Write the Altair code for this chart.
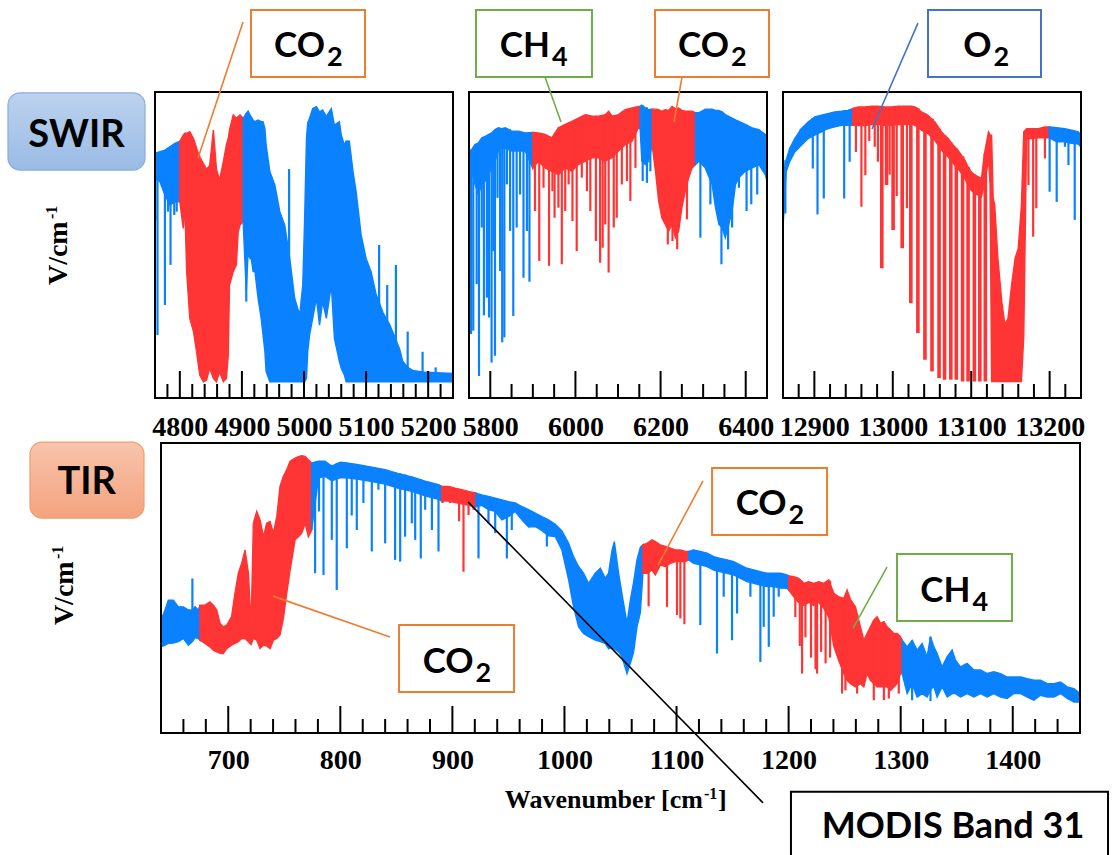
import bisect

import altair as alt
import pandas as pd

# ---------------------------------------------------------------- colours / fonts
BLUE = "#0A82FF"
RED = "#FF3434"
ORANGE = "#ED7D31"
GREEN = "#70AD47"
NAVY = "#4472C4"
INK = "#000000"
SANS = "Lato"
SERIF = "Liberation Serif"

# ---------------------------------------------------------------- SWIR 1 (CO2 band)
P1_WN = [4760, 4768, 4776, 4784, 4792, 4800,
         4805.5, 4808, 4811, 4816, 4822, 4827, 4832, 4838, 4843, 4848, 4854,
         4859, 4864, 4870, 4875, 4878, 4880, 4886, 4891, 4894, 4897, 4902,
         4907, 4910, 4913, 4915, 4918, 4921, 4926, 4931, 4934, 4937, 4939,
         4945, 4953, 4961, 4969, 4977, 4985, 4993, 4998, 5001, 5004,
         5006, 5009, 5014, 5020, 5025, 5030, 5036, 5044, 5049, 5057,
         5060, 5065, 5068, 5073, 5079, 5084, 5092, 5100, 5108, 5116,
         5127, 5138, 5148, 5154, 5159, 5167, 5175, 5191, 5212, 5240]
P1_TOP = [79.9, 80.5, 81.0, 82.1, 83.2, 83.9,
          85.9, 86.5, 86.5, 87.0, 84.8, 81.6, 78.8, 76.6, 74.8, 75.9, 87.6,
          74.8, 71.2, 77.2, 82.7, 85.0, 87.6, 92.5, 91.4, 92.0, 92.5, 91.4,
          93.0, 93.8, 92.5, 91.9, 90.8, 90.3, 90.8, 90.3, 90.3, 88.1, 82.7,
          73.9, 69.6, 60.9, 56.5, 45.6, 32.6, 27.1, 36.9, 58.5, 84.8,
          90.0, 91.4, 94.6, 95.2, 93.5, 94.1, 92.0, 94.6, 89.2, 90.3,
          86.0, 82.7, 84.0, 83.9, 73.9, 67.4, 53.3, 45.6, 41.3, 34.0,
          28.0, 24.0, 19.0, 16.0, 12.0, 10.0, 9.0, 8.5, 8.3, 8.0]
P1_BOT = [71.8, 70.7, 66.3, 63.1, 64.1, 64.1,
          55.4, 63.1, 41.3, 26.0, 21.7, 15.1, 7.5, 5.3, 5.9, 9.7, 6.4,
          5.3, 8.6, 5.3, 6.4, 14.0, 36.9, 41.3, 43.5, 54.3, 56.5, 57.6,
          34.7, 47.8, 45.6, 45.6, 41.3, 41.3, 32.6, 26.0, 20.6, 15.1, 8.6,
          5.3, 5.3, 5.3, 5.3, 5.3, 5.3, 5.3, 5.3, 5.3, 6.4,
          15.1, 20.6, 26.0, 32.6, 23.8, 31.5, 26.0, 36.9, 19.5, 11.9,
          9.7, 7.5, 5.3, 5.3, 5.3, 5.3, 5.3, 5.3, 5.3, 5.3,
          5.3, 5.3, 5.3, 5.3, 5.3, 5.3, 5.3, 5.3, 5.3, 5.3]
P1_BANDS = [(4800, 4902)]
P1_LINE_WN = [4760.5, 4764, 4771, 4776, 4781, 4785, 4791, 4795,
              4907, 4976, 5121, 5134, 5148, 5167, 5191, 5212]
P1_LINE_HI = [80.0, 80.2, 80.6, 81.0, 81.8, 82.2, 83.0, 83.4,
              93.0, 74.8, 50.0, 36.9, 43.5, 21.7, 15.1, 10.0]
P1_LINE_LO = [58.0, 20.6, 70.0, 30.4, 60.9, 43.5, 59.8, 60.9,
              31.5, 5.3, 5.3, 5.3, 5.3, 5.3, 5.3, 5.3]
P1_MAJOR = [4800, 4900, 5000, 5100, 5200]
P1_MINOR = [4780, 4820, 4840, 4860, 4880, 4920, 4940, 4960, 4980,
            5020, 5040, 5060, 5080, 5120, 5140, 5160, 5180, 5220]

# ---------------------------------------------------------------- SWIR 2 (CH4 / CO2)
P2_WN = [5750, 5756, 5764, 5772, 5780, 5788, 5795.5, 5803, 5811, 5819, 5827, 5835,
         5850, 5866, 5882, 5900,
         5913, 5929, 5944.5, 5952, 5960, 5976, 5991.5, 6007, 6023, 6038.6, 6054,
         6070, 6078, 6086, 6101, 6117, 6133, 6148, 6152,
         6156, 6164, 6172, 6180,
         6188, 6195.5, 6203, 6211, 6219, 6227, 6235, 6242.5, 6250, 6258, 6266, 6274, 6282,
         6290, 6305, 6321, 6329, 6337, 6344.5, 6352, 6360, 6368, 6376, 6384, 6391.5,
         6399, 6415, 6431, 6446, 6450]
P2_TOP = [80.7, 81.2, 82.8, 83.4, 85.0, 85.5, 86.1, 86.6, 87.7, 88.3, 88.0, 88.3,
          87.2, 87.2, 86.6, 86.8,
          86.6, 86.1, 85.0, 86.6, 88.3, 89.4, 90.4, 91.5, 92.6, 92.1, 92.1,
          92.6, 93.7, 92.1, 92.6, 94.2, 94.8, 95.3, 95.3,
          95.7, 94.8, 94.2, 94.4,
          94.4, 94.2, 93.7, 94.2, 94.0, 95.3, 94.5, 94.8, 94.0, 93.7, 93.7, 93.7, 93.2,
          93.2, 94.4, 94.4, 94.0, 94.0, 93.5, 92.6, 92.0, 91.5, 90.9, 90.4, 89.9,
          89.4, 88.3, 87.7, 86.1, 85.0]
P2_BOT = [69.8, 74.1, 69.8, 66.5, 69.8, 70.9, 73.0, 75.2, 77.4, 80.7, 81.7, 81.7,
          80.7, 80.7, 80.7, 75.0,
          77.4, 75.2, 74.1, 73.5, 73.0, 75.2, 74.1, 76.3, 77.4, 78.5, 78.5,
          77.4, 78.0, 78.5, 80.7, 82.8, 83.9, 88.3, 88.0,
          77.4, 76.3, 77.4, 82.8,
          74.1, 64.4, 58.9, 56.7, 54.6, 56.7, 52.4, 54.6, 62.2, 67.6, 72.0, 75.2, 76.3,
          77.4, 75.2, 69.8, 62.2, 56.7, 55.7, 52.4, 56.7, 61.1, 69.8, 72.0, 73.0,
          74.1, 75.2, 76.3, 73.0, 70.9]
P2_BANDS = [(5900, 6152), (6180, 6282)]
P2_LINE_WN = [5754.7, 5760, 5768, 5773.5, 5780, 5785, 5792, 5797, 5803, 5807, 5811, 5817,
              5823, 5828, 5833, 5839, 5846.5, 5854, 5862, 5870, 5878, 5886, 5892,
              5905, 5915, 5925, 5938, 5946, 5951, 5960, 5968, 5976, 5984, 5993, 6003,
              6015, 6027, 6035, 6048, 6058, 6064, 6070, 6078, 6090, 6097, 6109, 6121,
              6129, 6141,
              6158, 6168, 6176,
              6217, 6228, 6239, 6262,
              6293.5, 6317, 6343, 6358.6, 6368, 6384, 6402, 6413, 6427]
P2_LINE_HI = [81.0, 81.5, 82.8, 83.2, 84.5, 85.2, 85.6, 86.0, 86.4, 87.0, 87.5, 88.0,
              88.2, 88.0, 88.0, 88.2, 87.8, 87.2, 87.2, 87.2, 86.8, 86.6, 86.8,
              86.6, 86.6, 86.2, 85.5, 85.0, 86.0, 88.3, 88.8, 89.4, 90.0, 90.5, 91.2,
              92.0, 92.6, 92.2, 92.1, 92.1, 92.3, 92.6, 93.5, 92.3, 92.4, 93.5, 94.0,
              94.5, 95.0,
              95.6, 95.0, 94.3,
              94.1, 94.6, 94.6, 93.8,
              93.5, 94.4, 93.6, 92.2, 91.5, 90.4, 89.3, 88.5, 87.8]
P2_LINE_LO = [20.9, 22.0, 37.2, 7.2, 55.7, 27.0, 32.8, 26.3, 11.6, 48.0, 13.8, 65.4,
              41.5, 18.2, 19.8, 69.8, 54.6, 26.8, 55.7, 66.5, 39.3, 54.6, 38.0,
              61.1, 44.8, 68.7, 43.2, 67.6, 58.9, 62.2, 43.7, 61.1, 69.8, 57.8, 48.0,
              72.0, 67.6, 61.1, 51.3, 44.2, 49.1, 56.7, 41.0, 55.7, 58.9, 69.8, 70.9,
              64.4, 75.2,
              70.9, 70.3, 74.1,
              50.2, 51.3, 48.6, 58.4,
              52.4, 63.3, 43.7, 48.6, 55.7, 68.7, 61.1, 63.3, 66.5]
P2_MAJOR = [5800, 6000, 6200, 6400]
P2_MINOR = [5850, 5900, 5950, 6050, 6100, 6150, 6250, 6300, 6350]

# ---------------------------------------------------------------- SWIR 3 (O2 A-band)
P3_WN = [12860, 12861, 12864, 12868.5, 12875, 12883.4, 12892, 12900.4, 12909, 12917,
         12926, 12934.5, 12943, 12949,
         12956, 12964, 12973, 12981, 12990, 12998, 13007, 13015, 13024, 13028,
         13032, 13036.6, 13041, 13045, 13049, 13053.6, 13058, 13062, 13066, 13070.6,
         13075, 13079, 13083, 13087.6, 13092, 13096, 13100, 13105, 13109, 13113,
         13117, 13122, 13124,
         13126, 13128, 13130, 13134, 13139, 13143, 13147, 13151.5, 13156, 13160, 13164,
         13167, 13170.6, 13177, 13185.5, 13194, 13200,
         13209, 13219.5, 13228, 13236.6, 13240]
P3_TOP = [58.7, 73.9, 77.7, 81.5, 84.8, 88.0, 90.2, 91.9, 92.4, 92.9,
          93.5, 93.7, 94.0, 94.6,
          95.1, 95.1, 95.4, 95.4, 95.1, 95.1, 95.4, 95.4, 95.4, 95.1,
          94.6, 93.5, 92.9, 92.4, 91.3, 90.2, 88.6, 87.0, 85.9, 84.8,
          83.2, 82.1, 81.0, 79.4, 77.7, 75.5, 73.9, 72.8, 72.3, 71.7,
          80.0, 87.0, 86.0,
          85.9, 65.2, 63.0, 45.7, 31.5, 23.9, 26.1, 37.0, 45.7, 48.9, 63.0,
          87.0, 88.0, 88.0, 88.0, 88.6, 88.6,
          88.3, 88.0, 87.5, 87.0, 85.9]
P3_BOT = [56.0, 60.0, 73.9, 77.2, 80.4, 82.6, 84.8, 85.9, 87.0, 88.0,
          88.6, 89.1, 89.1, 89.1,
          89.0, 89.0, 89.4, 89.4, 89.1, 89.1, 89.4, 89.4, 89.4, 89.1,
          88.6, 87.5, 86.9, 86.4, 85.3, 84.2, 82.6, 81.0, 79.9, 78.8,
          77.2, 76.1, 75.0, 73.4, 71.7, 69.5, 67.9, 66.8, 66.3, 65.7,
          70.0, 78.0, 70.0,
          5.4, 5.4, 5.4, 5.4, 5.4, 5.4, 5.4, 5.4, 5.4, 5.4, 5.4,
          20.0, 84.8, 84.8, 85.0, 85.0, 85.0,
          83.7, 83.7, 83.2, 83.0, 82.0]
P3_BANDS = [(12949, 13200)]
P3_LINE_WN = [12863, 12882.6, 12898, 12904, 12912, 12938, 12945,
              12953, 12960, 12965, 12970, 12977, 12981, 12996, 13005, 13018,
              13173, 13179, 13183, 13194,
              13200, 13209, 13219.5, 13224, 13232]
P3_LINE_HI = [77.7, 88.0, 91.5, 92.0, 92.6, 94.0, 94.3,
              94.8, 95.1, 95.1, 95.3, 95.4, 95.4, 95.1, 95.3, 95.4,
              88.0, 88.0, 88.0, 88.5,
              88.6, 88.3, 88.0, 87.8, 87.3]
P3_LINE_LO = [60.3, 82.6, 75.0, 60.0, 65.2, 65.2, 77.2,
              80.4, 62.5, 72.8, 84.0, 82.1, 77.2, 73.0, 66.0, 62.0,
              69.6, 52.7, 62.0, 78.3,
              67.4, 64.1, 82.1, 76.1, 58.2]
# P-branch comb of the O2 A-band
P3_COMB_WN = [12986, 12992, 13000.4, 13012, 13023, 13032, 13041, 13050, 13059,
              13066, 13074, 13081, 13089, 13096, 13104, 13111, 13118]
P3_COMB_HI = [95.4, 95.1, 95.1, 95.4, 95.4, 94.6, 92.9, 91.3, 88.0,
              85.9, 83.5, 81.5, 79.0, 75.5, 73.0, 72.0, 80.0]
P3_COMB_LO = [42.4, 69.6, 54.9, 48.9, 31.0, 21.2, 12.5, 8.7, 6.5,
              6.0, 6.0, 6.0, 5.4, 5.4, 5.4, 5.4, 5.4]
P3_MAJOR = [12900, 13000, 13100, 13200]
P3_MINOR = [12880, 12920, 12940, 12960, 12980, 13020, 13040, 13060, 13080,
            13120, 13140, 13160, 13180, 13220]

# ---------------------------------------------------------------- TIR
TIR_WN = [640, 643.6, 646.5, 651, 655.5, 660, 664.4, 668, 670.4, 673.3, 674.8,
          679.3, 683.7, 686.7, 689.7, 692.7, 695.6, 698.6, 703, 706, 709,
          712, 715, 718, 720.4, 722.4, 725.4, 728.4, 731.4, 734.3, 737.3,
          740.3, 743.3, 746.2, 749.2, 752.2, 755.2, 759.6, 762.6, 765.6, 768.6,
          771.5, 774.5,
          780.5, 786.4, 792.4, 799.8, 805.8, 816.2, 828.1, 840, 851.9, 863.8, 875.7, 887.6, 890.6,
          896.5, 902.5, 908.4, 914.4, 921,
          926.3, 932.2, 938.2, 944.2, 950.1, 956, 962, 968, 973.9, 979.9,
          985.8, 991.8, 997.7, 1003.7, 1008.1, 1012.6, 1017, 1021.5, 1027.5, 1032,
          1036.4, 1039.4, 1042.4, 1044.5, 1048.3, 1051.3, 1055.8, 1058.8, 1061.7, 1064.7,
          1067.7, 1070,
          1073.6, 1078.1, 1081.1, 1085.5, 1090, 1094.5, 1099, 1103.4, 1107.9, 1110.8,
          1115.3, 1121.2, 1127.2, 1133.2, 1139.1, 1145.1, 1151, 1157, 1162.9, 1168.9,
          1174.8, 1180.8, 1186.7, 1192.7, 1198.6, 1200.1,
          1204.6, 1209, 1213.5, 1218, 1222.4, 1226.9, 1231.4, 1235.8, 1240.3, 1244.7,
          1249.2, 1252.2, 1255.2, 1259.6, 1264.1, 1267.1, 1270, 1273, 1276, 1279,
          1282, 1285, 1287.9, 1290.9, 1293.9, 1296.8, 1299.8, 1301.3,
          1305.8, 1310.2, 1314.7, 1319.1, 1323.6, 1326.6, 1329.6, 1332.5, 1337, 1341.5,
          1345.9, 1348.9, 1353.4, 1359.3, 1365.3, 1371.2, 1377.2, 1383.1, 1389.1, 1395,
          1401, 1407, 1413, 1418.9, 1424.8, 1430.8, 1436.7, 1442.6, 1448.6, 1454.6,
          1460]
TIR_TOP = [38.9, 42.4, 45.8, 45.8, 43.5, 43.5, 42.4, 42.4, 43.5, 42.4, 44.1,
           44.1, 45.2, 44.1, 42.4, 37.8, 36.6, 37.2, 40.1, 48.2, 55.1,
           58.5, 63.1, 55.1, 37.0, 72.3, 76.4, 73.5, 67.7, 72.3, 72.9,
           68.9, 74.6, 85.0, 88.5, 90.8, 93.7, 94.8, 95.3, 95.6, 95.4,
           94.2, 93.1,
           93.7, 93.7, 92.0, 93.4, 93.1, 92.5, 91.7, 90.8, 89.4, 88.3, 86.8, 85.6, 85.0,
           85.0, 84.4, 83.9, 83.3, 82.7,
           82.1, 81.6, 81.0, 80.4, 79.8, 79.3, 78.1, 77.0, 75.8, 74.6,
           73.5, 72.0, 69.7, 65.4, 60.8, 57.4, 55.1, 51.6, 55.1, 56.8,
           53.3, 55.1, 63.0, 66.0, 55.1, 48.0, 37.8, 45.8, 52.0, 59.7,
           64.0, 64.9,
           65.4, 66.6, 66.0, 64.9, 64.3, 63.7, 63.1, 63.1, 62.6, 62.6,
           63.1, 62.6, 62.0, 60.8, 60.2, 59.7, 59.1, 57.9, 56.8, 56.2,
           55.6, 55.1, 55.1, 55.1, 54.5, 54.2,
           53.9, 53.3, 51.6, 52.2, 51.6, 52.2, 51.6, 52.8, 48.2, 47.0,
           46.4, 49.3, 46.0, 43.5, 36.6, 32.0, 34.3, 36.6, 38.9, 40.1,
           37.8, 38.4, 36.6, 35.5, 34.3, 34.3, 33.2, 32.0,
           29.7, 32.0, 28.6, 30.9, 26.3, 33.2, 29.7, 27.4, 22.8, 26.3,
           28.6, 25.1, 22.8, 24.0, 21.7, 21.7, 20.5, 21.1, 20.5, 19.3,
           19.3, 19.3, 18.7, 18.2, 18.2, 17.0, 17.0, 17.6, 15.9, 15.3,
           13.6]
TIR_BOT = [29.7, 30.3, 30.9, 31.0, 31.5, 32.6, 30.3, 31.5, 32.9, 32.6, 32.0,
           30.9, 29.7, 28.6, 28.0, 27.5, 27.4, 29.1, 30.3, 30.9, 31.5,
           32.6, 32.6, 31.5, 30.5, 32.6, 32.0, 29.1, 30.3, 30.0, 29.1,
           32.0, 32.6, 33.8, 39.5, 48.2, 56.2, 66.6, 67.7, 68.9, 72.3,
           67.7, 70.0,
           88.0, 88.5, 87.0, 88.0, 88.0, 87.5, 86.7, 85.8, 84.4, 83.3, 81.8, 80.6, 80.0,
           80.0, 79.5, 79.0, 78.5, 78.0,
           78.5, 77.0, 76.4, 73.5, 74.6, 76.4, 73.5, 71.0, 71.2, 69.8,
           68.0, 67.7, 63.1, 52.8, 43.5, 36.6, 34.3, 33.2, 32.0, 31.5,
           30.9, 29.0, 29.7, 29.0, 28.0, 26.3, 20.5, 24.0, 28.0, 36.6,
           41.5, 55.1,
           55.1, 56.2, 54.5, 57.9, 57.4, 58.5, 59.1, 59.1, 59.1, 59.7,
           58.5, 58.0, 57.4, 56.2, 55.6, 55.1, 54.5, 53.3, 52.2, 51.6,
           51.0, 50.5, 50.5, 50.0, 49.9, 49.3,
           47.0, 45.0, 44.0, 45.0, 44.0, 45.0, 43.0, 40.0, 30.0, 25.0,
           20.5, 18.2, 17.0, 15.9, 17.0, 15.9, 20.5, 18.2, 17.0, 15.9,
           15.9, 15.9, 15.9, 14.7, 15.9, 17.0, 20.5, 20.5,
           13.6, 17.0, 12.4, 13.6, 12.4, 15.0, 16.0, 12.4, 16.0, 12.4,
           13.6, 13.6, 12.4, 13.6, 12.4, 13.6, 12.4, 13.6, 12.4, 11.9,
           13.6, 13.6, 12.4, 11.3, 13.0, 12.4, 12.4, 13.6, 11.9, 10.7,
           10.7]
TIR_BANDS = [(674.8, 774.5), (890.6, 921), (1070, 1110.8), (1200.1, 1301.3)]
TIR_LINE_WN = [668,
               777.5, 781, 785, 792.4, 796.8, 805.8, 810.2, 814.7, 820.6, 828.1, 834,
               840, 848.9, 853.4, 857.8, 863.8, 866.8, 871.8, 875.7, 881.7, 887.6,
               891.2, 898, 906, 909.9, 914.4, 918.9,
               923.3, 932.2, 938.2, 948.6, 953, 963.5, 976.9, 984.3,
               1075.1, 1091.5, 1100.4, 1103.4, 1107,
               1121.2, 1136.1, 1142.1, 1149.5, 1154, 1165.9, 1174.8, 1177.8, 1182.3,
               1186.7, 1191.2, 1197.1,
               1206, 1210, 1212, 1215, 1220, 1224, 1225.4, 1229, 1233, 1237, 1247.7,
               1250.7, 1261.1, 1276, 1285, 1289.4, 1298.3,
               1310.2, 1326.6]
TIR_LINE_HI = [53.3,
               93.4, 93.7, 93.7, 92.5, 93.0, 93.2, 93.0, 92.6, 92.3, 91.7, 91.3,
               90.8, 90.0, 89.6, 89.2, 88.4, 88.0, 87.4, 86.9, 86.2, 85.6,
               85.0, 84.9, 84.1, 83.7, 83.3, 82.9,
               82.4, 81.6, 81.0, 80.0, 79.5, 78.0, 75.2, 73.8,
               65.7, 64.2, 63.1, 63.1, 62.6,
               62.6, 60.5, 60.0, 59.2, 58.6, 56.5, 55.6, 55.4, 55.1,
               55.1, 55.1, 54.6,
               53.7, 53.0, 52.5, 51.8, 51.9, 51.8, 52.0, 51.9, 52.0, 52.5, 46.6,
               47.5, 41.0, 38.9, 38.4, 36.0, 33.8,
               32.0, 33.2]
TIR_LINE_LO = [35.0,
               55.1, 76.4, 54.5, 66.6, 49.3, 63.7, 75.0, 70.0, 79.3, 62.6, 83.9,
               65.4, 59.7, 59.1, 67.7, 72.3, 66.6, 60.2, 77.0, 70.0, 62.6,
               79.3, 79.3, 73.0, 55.6, 75.2, 77.0,
               60.2, 72.3, 68.9, 60.2, 70.0, 73.5, 71.2, 64.3,
               43.7, 43.5, 40.7, 39.5, 37.5,
               37.2, 27.4, 47.0, 32.0, 41.2, 47.0, 24.5, 36.6, 29.7,
               40.1, 47.0, 50.5,
               40.0, 30.0, 20.5, 33.0, 26.0, 22.0, 20.5, 28.0, 24.0, 26.0, 13.6,
               14.7, 13.6, 11.3, 11.3, 11.9, 13.6,
               11.3, 11.0]
TIR_MAJOR = [700, 800, 900, 1000, 1100, 1200, 1300, 1400]
TIR_MINOR = [660, 680, 720, 740, 760, 780, 820, 840, 860, 880, 920, 940, 960, 980,
             1020, 1040, 1060, 1080, 1120, 1140, 1160, 1180, 1220, 1240, 1260, 1280,
             1320, 1340, 1360, 1380, 1420, 1440]

# ---------------------------------------------------------------- layout of the panels
CANVAS_W, CANVAS_H = 1115, 855
LAYOUT = {
    "p1": dict(dom=[4760, 5240], x=[155, 453], y=[398, 92], pad=29),
    "p2": dict(dom=[5750, 6450], x=[469, 767], y=[398, 92], pad=29),
    "p3": dict(dom=[12860, 13240], x=[783, 1081], y=[398, 92], pad=29),
    "tir": dict(dom=[640, 1460], x=[161, 1080], y=[733, 443], pad=27),
}
TICK_PX = (27, 14)  # major / minor tick length, pixels

GAS_SCALE = alt.Scale(domain=["other", "target"], range=[BLUE, RED])
COLOR = alt.Color("gas:N", scale=GAS_SCALE, legend=None)
STROKE = alt.Stroke("gas:N", scale=GAS_SCALE, legend=None)


def check(name, *arrays):
    n = len(arrays[0])
    for a in arrays:
        if len(a) != n:
            raise ValueError(f"{name}: lengths {[len(x) for x in arrays]}")


def xscale(p):
    return alt.Scale(domain=LAYOUT[p]["dom"], range=LAYOUT[p]["x"], nice=False, zero=False)


def yscale(p):
    return alt.Scale(domain=[0, 100], range=LAYOUT[p]["y"], nice=False, zero=False)


def pos(p, xf, yf, x2f=None, y2f=None):
    enc = dict(x=alt.X(f"{xf}:Q", scale=xscale(p), axis=None),
               y=alt.Y(f"{yf}:Q", scale=yscale(p), axis=None))
    if x2f:
        enc["x2"] = alt.X2(x2f)
    if y2f:
        enc["y2"] = alt.Y2(y2f)
    return enc


def spectrum_frame(wn, top, bot, bands):
    """Split the envelope into contiguous pieces at band edges (edge points shared)."""
    edges = sorted({e for band in bands for e in band})

    def gas_of(k):
        if 0 < k < len(edges):
            mid = 0.5 * (edges[k - 1] + edges[k])
            if any(lo < mid < hi for lo, hi in bands):
                return "target"
        return "other"

    rows = []
    for w, t, b in zip(wn, top, bot):
        k = bisect.bisect_left(edges, w)
        segs = [k, k + 1] if (k < len(edges) and edges[k] == w) else [k]
        for s in segs:
            rows.append({"wn": w, "hi": t, "lo": b, "seg": s, "gas": gas_of(s)})
    return pd.DataFrame(rows)


def lines_frame(wn, hi, lo, bands):
    gas = ["target" if any(a < w < b for a, b in bands) else "other" for w in wn]
    return pd.DataFrame({"wn": wn, "hi": hi, "lo": lo, "gas": gas})


def spectrum_layers(p, wn, top, bot, bands, lwn, lhi, llo, major, width=2.2):
    check(p, wn, top, bot)
    check(p + " lines", lwn, lhi, llo)
    axis = alt.Axis(values=major, orient="bottom", offset=LAYOUT[p]["y"][0] - CANVAS_H,
                    domain=False, ticks=False, tickSize=0, grid=False,
                    labelFont=SERIF, labelFontSize=28, labelFontWeight="bold",
                    labelColor="black", labelPadding=LAYOUT[p]["pad"],
                    labelBaseline="middle", labelFlush=False, labelOverlap=False,
                    format="d", title=None)
    area = alt.Chart(spectrum_frame(wn, top, bot, bands)).mark_area(
        interpolate="linear", strokeWidth=1.4).encode(
        x=alt.X("wn:Q", scale=xscale(p), axis=axis),
        y=alt.Y("hi:Q", scale=yscale(p), axis=None),
        y2=alt.Y2("lo"),
        color=COLOR,
        stroke=STROKE,
        detail="seg:N",
    )
    rules = alt.Chart(lines_frame(lwn, lhi, llo, bands)).mark_rule(
        strokeWidth=width).encode(**pos(p, "wn", "hi", y2f="lo"), color=COLOR)
    return [area, rules]


def frame_and_ticks(p, major, minor):
    d0, d1 = LAYOUT[p]["dom"]
    frame = alt.Chart(pd.DataFrame([{"a": d0, "b": d1, "c": 0, "d": 100}])).mark_rect(
        fillOpacity=0, stroke=INK, strokeWidth=2).encode(**pos(p, "a", "c", "b", "d"))
    out = [frame]
    y0, y1 = LAYOUT[p]["y"]
    px_per_unit = (y0 - y1) / 100.0
    for vals, size in zip((major, minor), TICK_PX):
        df = pd.DataFrame({"wn": vals, "base": [0.0] * len(vals),
                           "tip": [size / px_per_unit] * len(vals)})
        out.append(alt.Chart(df).mark_rule(strokeWidth=2, color=INK)
                   .encode(**pos(p, "wn", "base", y2f="tip")))
    return out


def callout(p, box, leader, color, main, sub, main_dx, size=35, sub_size=27):
    x1, x2, y1, y2 = box
    cx, cy = (x1 + x2) / 2, (y1 + y2) / 2
    lead = alt.Chart(pd.DataFrame([dict(a=leader[0], b=leader[1], c=leader[2], d=leader[3])])
                     ).mark_rule(stroke=color, strokeWidth=1.6).encode(**pos(p, "a", "b", "c", "d"))
    rect = alt.Chart(pd.DataFrame([dict(a=x1, b=x2, c=y1, d=y2)])).mark_rect(
        fill="white", stroke=color, strokeWidth=2).encode(**pos(p, "a", "c", "b", "d"))
    df = pd.DataFrame([dict(x=cx, y=cy, t=main, s=sub)])
    t1 = alt.Chart(df).mark_text(font=SANS, fontWeight="bold", fontSize=size, color="black",
                                 align="right", baseline="alphabetic", dx=main_dx, dy=14
                                 ).encode(**pos(p, "x", "y"), text="t:N")
    t2 = alt.Chart(df).mark_text(font=SANS, fontWeight="bold", fontSize=sub_size, color="black",
                                 align="left", baseline="alphabetic", dx=main_dx + 2, dy=23
                                 ).encode(**pos(p, "x", "y"), text="s:N")
    return [lead, rect, t1, t2]


def badge(p, box, top_col, bottom_col, edge, label, tx, ty):
    x1, x2, y1, y2 = box
    grad = {"gradient": "linear", "x1": 0, "x2": 0, "y1": 0, "y2": 1,
            "stops": [{"offset": 0, "color": top_col}, {"offset": 1, "color": bottom_col}]}
    rect = alt.Chart(pd.DataFrame([dict(a=x1, b=x2, c=y1, d=y2)])).mark_rect(
        fill=grad, stroke=edge, strokeWidth=1.2, cornerRadius=12
    ).encode(**pos(p, "a", "c", "b", "d"))
    text = alt.Chart(pd.DataFrame([dict(x=tx, y=ty, t=label)])).mark_text(
        font=SANS, fontWeight="bold", fontSize=38, color="black",
        align="center", baseline="alphabetic").encode(**pos(p, "x", "y"), text="t:N")
    return [rect, text]


def v_title(p, x, y):
    df = pd.DataFrame([dict(x=x, y=y, t="V/cm", s="-1")])
    main = alt.Chart(df).mark_text(font=SERIF, fontWeight="bold", fontSize=28, color="black",
                                   angle=270, align="left", baseline="alphabetic"
                                   ).encode(**pos(p, "x", "y"), text="t:N")
    sup = alt.Chart(df).mark_text(font=SERIF, fontWeight="bold", fontSize=16, color="black",
                                  angle=270, align="left", baseline="alphabetic",
                                  dx=66, dy=-10).encode(**pos(p, "x", "y"), text="s:N")
    return [main, sup]


def x_title(p, x, y):
    df = pd.DataFrame([dict(x=x, y=y, a="Wavenumber [cm", b="-1", c="]")])
    style = dict(font=SERIF, fontWeight="bold", color="black", baseline="alphabetic")
    return [
        alt.Chart(df).mark_text(fontSize=26, align="right", **style
                                ).encode(**pos(p, "x", "y"), text="a:N"),
        alt.Chart(df).mark_text(fontSize=16, align="left", dx=1, dy=-9, **style
                                ).encode(**pos(p, "x", "y"), text="b:N"),
        alt.Chart(df).mark_text(fontSize=26, align="left", dx=15, **style
                                ).encode(**pos(p, "x", "y"), text="c:N"),
    ]


# ---------------------------------------------------------------- assemble
layers = []
layers += spectrum_layers("p1", P1_WN, P1_TOP, P1_BOT, P1_BANDS,
                          P1_LINE_WN, P1_LINE_HI, P1_LINE_LO, P1_MAJOR)
layers += spectrum_layers("p2", P2_WN, P2_TOP, P2_BOT, P2_BANDS,
                          P2_LINE_WN, P2_LINE_HI, P2_LINE_LO, P2_MAJOR)
layers += spectrum_layers("p3", P3_WN, P3_TOP, P3_BOT, P3_BANDS,
                          P3_LINE_WN, P3_LINE_HI, P3_LINE_LO, P3_MAJOR)
check("p3 comb", P3_COMB_WN, P3_COMB_HI, P3_COMB_LO)
layers.append(alt.Chart(lines_frame(P3_COMB_WN, P3_COMB_HI, P3_COMB_LO, P3_BANDS)).mark_rule(
    strokeWidth=3.6).encode(**pos("p3", "wn", "hi", y2f="lo"), color=COLOR))
layers += spectrum_layers("tir", TIR_WN, TIR_TOP, TIR_BOT, TIR_BANDS,
                          TIR_LINE_WN, TIR_LINE_HI, TIR_LINE_LO, TIR_MAJOR)

layers += frame_and_ticks("p1", P1_MAJOR, P1_MINOR)
layers += frame_and_ticks("p2", P2_MAJOR, P2_MINOR)
layers += frame_and_ticks("p3", P3_MAJOR, P3_MINOR)
layers += frame_and_ticks("tir", TIR_MAJOR, TIR_MINOR)

# gas labels with their leader lines
CALLOUTS = [
    ("p1", (4914.6, 5098.3, 104.9, 126.8), (4901.8, 122.9, 4829.3, 78.4), ORANGE, "CO", "2", 17),
    ("p2", (5766.4, 6038.9, 104.9, 126.8), (5928.5, 104.9, 5966.1, 90.2), GREEN, "CH", "4", 16),
    ("p2", (6186.9, 6454.7, 104.9, 126.8), (6250.4, 104.9, 6231.6, 90.2), ORANGE, "CO", "2", 17),
    ("p3", (13044.9, 13189.0, 104.9, 126.8), (13032.1, 122.5, 12973.5, 87.9), NAVY, "O", "2", 7),
    ("tir", (852.4, 955.0, 14.1, 37.2), (844.3, 33.1, 739.9, 47.2), ORANGE, "CO", "2", 17),
    ("tir", (1131.7, 1234.3, 68.3, 91.4), (1123.6, 86.9, 1083.5, 57.9), ORANGE, "CO", "2", 17),
    ("tir", (1296.7, 1399.3, 38.6, 61.7), (1287.8, 57.2, 1257.5, 36.2), GREEN, "CH", "4", 16),
]
for c in CALLOUTS:
    layers += callout(*c)

# MODIS band 31 pointer
modis_line = pd.DataFrame([dict(a=913.9, b=79.7, c=1177.2, d=-24.1)])
layers.append(alt.Chart(modis_line).mark_rule(stroke=INK, strokeWidth=1.6)
              .encode(**pos("tir", "a", "b", "c", "d")))
layers.append(alt.Chart(pd.DataFrame([dict(a=1202.1, b=1485.0, c=-20.3, d=-60.0)])).mark_rect(
    fill="white", stroke=INK, strokeWidth=2).encode(**pos("tir", "a", "c", "b", "d")))
layers.append(alt.Chart(pd.DataFrame([dict(x=1346.7, y=-36.3, t="MODIS Band 31")])).mark_text(
    font=SANS, fontWeight="bold", fontSize=36, color="black", align="center",
    baseline="alphabetic").encode(**pos("tir", "x", "y"), text="t:N"))

# region badges and axis titles
layers += badge("p1", (4523.2, 4743.9, 74.5, 99.7), "#BCD2EE", "#9ABBE5", "#88ADDC",
                "SWIR", 4633.6, 82.1)
layers += badge("tir", (523.1, 624.8, 74.1, 100.3), "#F8C4AC", "#F4A37F", "#EE9D6E",
                "TIR", 573.7, 82.4)
layers += v_title("p1", 4617.8, 36.9)
layers += v_title("tir", 561.7, 37.2)
layers += x_title("tir", 1123.6, -25.9)

chart = (
    alt.layer(*layers)
    .resolve_scale(x="independent", y="independent")
    .properties(width=CANVAS_W, height=CANVAS_H, padding=0, background="white",
                autosize=alt.AutoSizeParams(type="none"))
    .configure_view(strokeWidth=0)
)

chart.save("out.html", embed_options={"renderer": "svg", "actions": False})
